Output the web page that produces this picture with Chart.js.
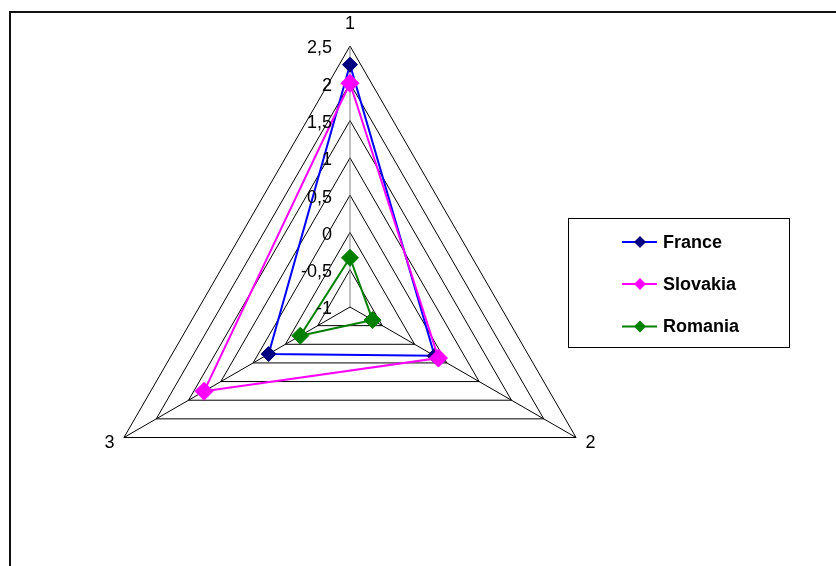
<!DOCTYPE html>
<html>
<head>
<meta charset="utf-8">
<script src="https://cdn.jsdelivr.net/npm/chart.js@4/dist/chart.umd.min.js"></script>
<style>
  html, body { margin: 0; padding: 0; background: #fff; overflow: hidden; }
  #wrap { position: relative; width: 836px; height: 620px; }
</style>
</head>
<body>
<div id="wrap"><canvas id="c" width="836" height="620"></canvas></div>
<script>
const categories = ['1', '2', '3'];
const seriesNames = ['France', 'Slovakia', 'Romania'];
const franceValues = [2.25, 0.31, 0.26];
const slovakiaValues = [2.0, 0.37, 1.26];
const romaniaValues = [-0.34, -0.65, -0.23];
const tickValues = [-1, -0.5, 0, 0.5, 1, 1.5, 2, 2.5];
const tickLabels = ['-1', '-0,5', '0', '0,5', '1', '1,5', '2', '2,5'];

const FONT = '"Liberation Sans", Arial, sans-serif';

const decorPlugin = {
  id: 'decor',
  beforeDraw(chart) {
    const ctx = chart.ctx;
    ctx.save();
    ctx.fillStyle = '#fff';
    ctx.fillRect(0, 0, chart.width, chart.height);
    ctx.fillStyle = '#111';
    ctx.fillRect(9, 11, 2, chart.height);
    ctx.fillRect(9, 11, chart.width, 2);
    ctx.restore();
  },
  afterDraw(chart) {
    const ctx = chart.ctx;
    const s = chart.scales.r;
    ctx.save();
    // value tick labels
    ctx.font = '18px ' + FONT;
    ctx.fillStyle = '#000';
    ctx.textAlign = 'right';
    ctx.textBaseline = 'middle';
    s.ticks.forEach((t) => {
      const i = tickValues.indexOf(t.value);
      if (i < 0) return;
      const d = s.getDistanceFromCenterForValue(t.value);
      ctx.fillText(tickLabels[i], s.xCenter - 18, s.yCenter - d + 2.5);
    });
    // category labels
    categories.forEach((lab, i) => {
      const extra = i === 0 ? 22 : 11;
      const p = s.getPointPosition(i, s.drawingArea + extra);
      ctx.textAlign = i === 0 ? 'center' : (i === 1 ? 'left' : 'right');
      ctx.fillText(lab, p.x, p.y);
    });
    // legend box
    ctx.strokeStyle = '#000';
    ctx.lineWidth = 1;
    ctx.strokeRect(568.5, 218.5, 221, 129);
    const ys = [242, 284, 326.5];
    chart.data.datasets.forEach((ds, k) => {
      const y = ys[k];
      ctx.strokeStyle = ds.borderColor;
      ctx.lineWidth = 2;
      ctx.beginPath();
      ctx.moveTo(622, y);
      ctx.lineTo(657, y);
      ctx.stroke();
      ctx.fillStyle = ds.pointBackgroundColor;
      ctx.beginPath();
      const r = 6;
      ctx.moveTo(640, y - r);
      ctx.lineTo(640 + r, y);
      ctx.lineTo(640, y + r);
      ctx.lineTo(640 - r, y);
      ctx.closePath();
      ctx.fill();
      ctx.fillStyle = '#000';
      ctx.font = 'bold 18px ' + FONT;
      ctx.textAlign = 'left';
      ctx.textBaseline = 'middle';
      ctx.fillText(ds.label, 663, y + 1);
    });
    ctx.restore();
  }
};

function ds(label, data, line, marker, radius, order) {
  return {
    label, data, order,
    borderColor: line,
    backgroundColor: 'rgba(0,0,0,0)',
    fill: false,
    borderWidth: 2,
    tension: 0,
    pointStyle: 'rectRot',
    pointRadius: radius,
    pointHoverRadius: radius,
    pointBackgroundColor: marker,
    pointBorderColor: marker,
    pointBorderWidth: 1
  };
}

new Chart(document.getElementById('c'), {
  type: 'radar',
  data: {
    labels: categories,
    datasets: [
      ds(seriesNames[0], franceValues, '#0000FF', '#000080', 7.5, 3),
      ds(seriesNames[1], slovakiaValues, '#FF00FF', '#FF00FF', 9, 2),
      ds(seriesNames[2], romaniaValues, '#008000', '#008000', 8.5, 1)
    ]
  },
  options: {
    responsive: false,
    animation: false,
    devicePixelRatio: 1,
    layout: { padding: { left: 89, right: 225, top: 46, bottom: 52 } },
    plugins: { legend: { display: false }, tooltip: { enabled: false } },
    elements: { line: { borderJoinStyle: 'miter' } },
    scales: {
      r: {
        min: -1,
        max: 2.5,
        ticks: { display: false, stepSize: 0.5 },
        pointLabels: { display: false },
        grid: { color: '#000', lineWidth: 1 },
        angleLines: {
          display: true,
          lineWidth: 1,
          color: (c) => c.index === 0 ? '#808080' : '#000'
        }
      }
    }
  },
  plugins: [decorPlugin]
});
</script>
</body>
</html>
